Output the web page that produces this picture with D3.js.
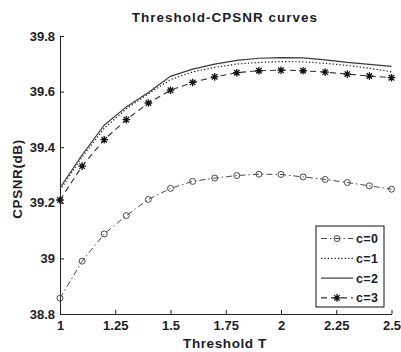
<!DOCTYPE html>
<html>
<head>
<meta charset="utf-8">
<script src="https://cdn.jsdelivr.net/npm/d3@7"></script>
<style>
  body { margin: 0; background: #fff; }
  text { font-family: Arial, "Liberation Sans", sans-serif; fill: #1c1c28; }
</style>
</head>
<body>
<div id="chart"></div>
<script>
const thresholds = [1, 1.1, 1.2, 1.3, 1.4, 1.5, 1.6, 1.7, 1.8, 1.9, 2, 2.1, 2.2, 2.3, 2.4, 2.5];
const c0 = [38.857, 38.99, 39.088, 39.154, 39.212, 39.252, 39.277, 39.289, 39.298, 39.303, 39.302, 39.293, 39.284, 39.273, 39.261, 39.249];
const c1 = [39.245, 39.365, 39.468, 39.538, 39.592, 39.643, 39.671, 39.687, 39.699, 39.705, 39.708, 39.707, 39.702, 39.694, 39.684, 39.671];
const c2 = [39.254, 39.372, 39.479, 39.545, 39.597, 39.655, 39.681, 39.699, 39.712, 39.72, 39.722, 39.721, 39.714, 39.705, 39.698, 39.691];
const c3 = [39.21, 39.332, 39.427, 39.499, 39.559, 39.605, 39.633, 39.653, 39.668, 39.675, 39.677, 39.675, 39.67, 39.663, 39.656, 39.65];
const xTicks = [1, 1.25, 1.5, 1.75, 2, 2.25, 2.5];
const yTicks = [38.8, 39, 39.2, 39.4, 39.6, 39.8];
const seriesNames = ["c=0", "c=1", "c=2", "c=3"];

const width = 401, height = 352;
const margin = { top: 36, right: 9.5, bottom: 38, left: 60 };

const svg = d3.select("#chart")
  .append("svg")
  .attr("width", width)
  .attr("height", height);

const x = d3.scaleLinear().domain([1, 2.5]).range([margin.left, width - margin.right]);
const y = d3.scaleLinear().domain([38.8, 39.8]).range([height - margin.bottom, margin.top]);

// axes (ticks point inward, matlab style)
const xAxis = svg.append("g")
  .attr("transform", `translate(0,${height - margin.bottom})`)
  .call(d3.axisBottom(x).tickValues(xTicks).tickSizeInner(-4).tickSizeOuter(0).tickPadding(7)
    .tickFormat(d => d3.format("~g")(d)));

const yAxis = svg.append("g")
  .attr("transform", `translate(${margin.left},0)`)
  .call(d3.axisLeft(y).tickValues(yTicks).tickSizeInner(-4).tickSizeOuter(0).tickPadding(5)
    .tickFormat(d => d3.format("~g")(d)));

[xAxis, yAxis].forEach(a => {
  a.select(".domain").attr("stroke", "#222");
  a.selectAll(".tick line").attr("stroke", "#222");
  a.selectAll("text").attr("font-size", "13px").attr("font-weight", "bold").attr("fill", "#1c1c28");
});

// series
const styles = [
  { data: c0, color: "#4a4a4a", dash: "6,3,1.5,3", width: 1, marker: "circle" },
  { data: c1, color: "#111", dash: "1.2,2.2", width: 1.2, marker: null },
  { data: c2, color: "#3a3a3a", dash: null, width: 1.2, marker: null },
  { data: c3, color: "#333", dash: "6,4", width: 1.1, marker: "star" }
];

const line = d3.line()
  .x((d, i) => x(thresholds[i]))
  .y(d => y(d));

function star(g, cx, cy, r, color) {
  const d = `M${cx - r},${cy}L${cx + r},${cy}M${cx},${cy - r}L${cx},${cy + r}` +
    `M${cx - r * 0.72},${cy - r * 0.72}L${cx + r * 0.72},${cy + r * 0.72}` +
    `M${cx - r * 0.72},${cy + r * 0.72}L${cx + r * 0.72},${cy - r * 0.72}`;
  g.append("path").attr("d", d).attr("stroke", color).attr("stroke-width", 1.3).attr("fill", "none");
}

function marker(g, type, cx, cy, color) {
  if (type === "circle") {
    g.append("circle").attr("cx", cx).attr("cy", cy).attr("r", 3)
      .attr("fill", "none").attr("stroke", color).attr("stroke-width", 1);
  } else if (type === "star") {
    star(g, cx, cy, 3.8, "#111");
  }
}

styles.forEach(s => {
  const g = svg.append("g");
  g.append("path")
    .datum(s.data)
    .attr("d", line)
    .attr("fill", "none")
    .attr("stroke", s.color)
    .attr("stroke-width", s.width)
    .attr("stroke-dasharray", s.dash);
  if (s.marker) {
    s.data.forEach((v, i) => marker(g, s.marker, x(thresholds[i]), y(v), s.color));
  }
});

// title and labels
svg.append("text")
  .attr("x", 225).attr("y", 22)
  .attr("text-anchor", "middle")
  .attr("font-size", "13.5px").attr("font-weight", "bold")
  .attr("letter-spacing", "1px")
  .text("Threshold-CPSNR curves");

svg.append("text")
  .attr("x", 225).attr("y", 348)
  .attr("text-anchor", "middle")
  .attr("font-size", "13.5px").attr("font-weight", "bold")
  .attr("letter-spacing", "0.6px")
  .text("Threshold T");

svg.append("text")
  .attr("transform", "translate(22,179) rotate(-90)")
  .attr("text-anchor", "middle")
  .attr("font-size", "13.5px").attr("font-weight", "bold")
  .attr("letter-spacing", "0.6px")
  .text("CPSNR(dB)");

// legend
const lg = svg.append("g").attr("transform", "translate(316,226)");
lg.append("rect")
  .attr("width", 68).attr("height", 81)
  .attr("fill", "#fff").attr("stroke", "#111").attr("stroke-width", 1);

styles.forEach((s, i) => {
  const ly = 12.5 + i * 19.8;
  lg.append("line")
    .attr("x1", 5).attr("x2", 37).attr("y1", ly).attr("y2", ly)
    .attr("stroke", s.color).attr("stroke-width", s.width)
    .attr("stroke-dasharray", s.dash);
  if (s.marker) marker(lg, s.marker, 21, ly, s.color);
  lg.append("text")
    .attr("x", 40).attr("y", ly + 4.5)
    .attr("font-size", "12.5px").attr("font-weight", "bold")
    .attr("letter-spacing", "0.4px")
    .text(seriesNames[i]);
});
</script>
</body>
</html>
